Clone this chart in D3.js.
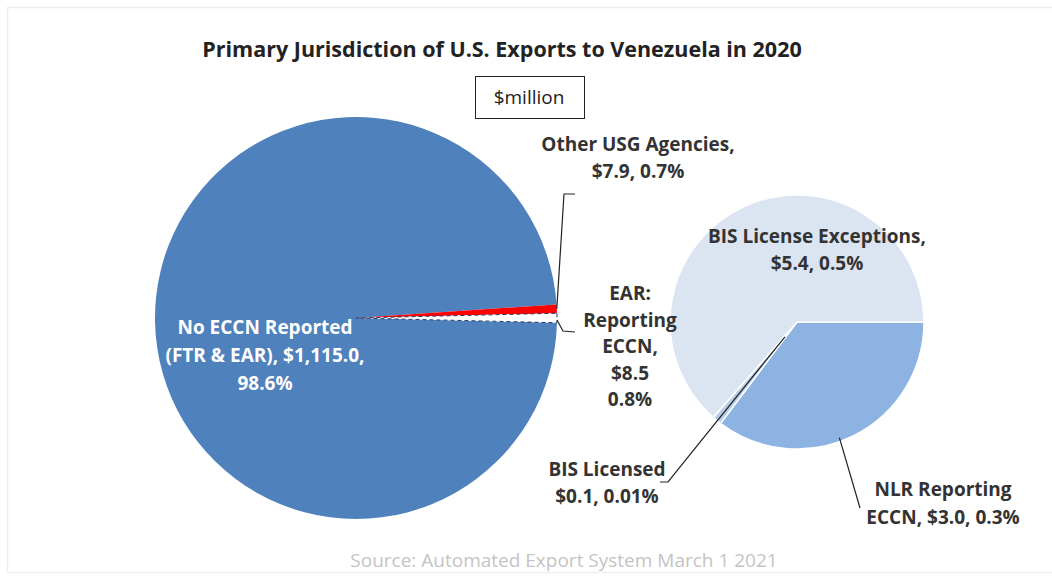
<!DOCTYPE html>
<html>
<head>
<meta charset="utf-8">
<script src="https://cdn.jsdelivr.net/npm/d3@7/dist/d3.min.js"></script>
<style>
  html, body { margin: 0; padding: 0; background: #fff; }
  text { font-family: "Open Sans", Lato, sans-serif; }
</style>
</head>
<body>
<svg id="chart" width="1052" height="577"></svg>
<script>
// ---- Data ----
const mainCategories = ["No ECCN Reported (FTR & EAR)", "Other USG Agencies", "EAR: Reporting ECCN"];
const mainValues = [1115.0, 7.9, 8.5];
const mainPercents = ["98.6%", "0.7%", "0.8%"];

const subCategories = ["NLR Reporting ECCN", "BIS Licensed", "BIS License Exceptions"];
const subValues = [3.0, 0.1, 5.4];
const subPercents = ["0.3%", "0.01%", "0.5%"];

const titleText = "Primary Jurisdiction  of U.S. Exports to Venezuela in 2020";
const unitText = "$million";
const sourceText = "Source: Automated Export System March 1 2021";

// ---- Layout ----
const svg = d3.select("#chart");
const W = 1052, H = 577;
const textColor = "#333333";

// faint outer border
svg.append("rect").attr("x", 7.5).attr("y", 7.5).attr("width", W - 4).attr("height", 565)
  .attr("fill", "none").attr("stroke", "#eeeeee").attr("stroke-width", 1.5);

// title
svg.append("text").attr("x", 502).attr("y", 57).attr("text-anchor", "middle")
  .attr("font-size", 21.5).attr("font-weight", 700).attr("fill", "#222").text(titleText);

// unit box
svg.append("rect").attr("x", 475.5).attr("y", 76.5).attr("width", 109).attr("height", 42)
  .attr("fill", "#fff").attr("stroke", "#222").attr("stroke-width", 1);
svg.append("text").attr("x", 529).attr("y", 104).attr("text-anchor", "middle")
  .attr("font-size", 19).attr("fill", "#222").text(unitText);

// ---- Main pie ----
const mainC = { x: 356, y: 318 }, mainR = 201;
const total = d3.sum(mainValues);
const breakAngle = mainValues[2] / total * 2 * Math.PI;
const mainPie = d3.pie().sort(null)
  .startAngle(Math.PI / 2 + breakAngle / 2 - 2 * Math.PI)
  .endAngle(Math.PI / 2 + breakAngle / 2);
const mainArcs = mainPie(mainValues);
const mainArc = d3.arc().innerRadius(0).outerRadius(mainR);
const mainColors = ["#4f81bd", "#ff0000", "#ffffff"];

const gMain = svg.append("g").attr("transform", `translate(${mainC.x},${mainC.y})`);
gMain.selectAll("path").data(mainArcs).join("path")
  .attr("d", mainArc)
  .attr("fill", (d, i) => mainColors[i])
  .attr("stroke", (d, i) => i === 2 ? "#1f3a66" : "none")
  .attr("stroke-width", (d, i) => i === 2 ? 1 : 0)
  .attr("stroke-dasharray", (d, i) => i === 2 ? "4,3" : null);

// ---- Secondary pie ----
const subC = { x: 797, y: 322 }, subR = 127;
const subPie = d3.pie().sort(null).startAngle(Math.PI / 2).endAngle(Math.PI / 2 + 2 * Math.PI);
const subArcs = subPie(subValues);
const subArc = d3.arc().innerRadius(0).outerRadius(subR);
const subColors = ["#8db3e2", "#b9cde8", "#dbe5f1"];
const gSub = svg.append("g").attr("transform", `translate(${subC.x},${subC.y})`);
gSub.selectAll("path").data(subArcs).join("path")
  .attr("d", subArc)
  .attr("fill", (d, i) => subColors[i])
  .attr("stroke", "#ffffff").attr("stroke-width", 1.5);

// helper: point on circle for angle a (d3 convention)
function pt(c, r, a) { return [c.x + Math.sin(a) * r, c.y - Math.cos(a) * r]; }

// ---- Labels ----
function multiline(x, y, lines, opts) {
  const t = svg.append("text").attr("x", x).attr("y", y).attr("text-anchor", "middle")
    .attr("font-size", opts.size || 19).attr("font-weight", 700)
    .attr("fill", opts.color || textColor);
  lines.forEach((l, i) => t.append("tspan").attr("x", x).attr("dy", i === 0 ? 0 : (opts.lh || 27.5)).text(l));
  return t;
}
const fmt = v => "$" + d3.format(",.1f")(v);

// No ECCN
multiline(265, 334, ["No ECCN Reported", "(FTR & EAR), " + fmt(mainValues[0]) + ",", mainPercents[0]], { color: "#ffffff", lh: 28 });
// Other USG
multiline(638, 151, ["Other USG Agencies,", fmt(mainValues[1]) + ", " + mainPercents[1]], { lh: 27 });
// EAR
multiline(630, 300, ["EAR:", "Reporting", "ECCN,", fmt(mainValues[2]), mainPercents[2]], { lh: 26.5 });
// BIS License Exceptions
multiline(817, 243, ["BIS License Exceptions,", fmt(subValues[2]) + ", " + subPercents[2]], { lh: 27 });
// BIS Licensed
multiline(607, 476, ["BIS Licensed", fmt(subValues[1]) + ", " + subPercents[1]], { lh: 27 });
// NLR
multiline(943, 496, ["NLR Reporting", "ECCN, " + fmt(subValues[0]) + ", " + subPercents[0]], { lh: 28 });

// ---- Leader lines ----
const leader = svg.append("g").attr("fill", "none").attr("stroke", "#222").attr("stroke-width", 1.2);
// Other USG: from red slice edge up to label
const redMid = (mainArcs[1].startAngle + mainArcs[1].endAngle) / 2;
const pRed = pt(mainC, mainR, redMid);
leader.append("path").attr("d", `M${pRed[0]},${pRed[1]} L564,194 L575,194`);
// EAR: from white slice edge to label
const earMid = (mainArcs[2].startAngle + mainArcs[2].endAngle) / 2 + 0.01;
const pEar = pt(mainC, mainR, earMid);
leader.append("path").attr("d", `M${pEar[0]},${pEar[1]} L563,331 L575,332`);
// BIS Licensed
const licMid = (subArcs[1].startAngle + subArcs[1].endAngle) / 2;
const pLic = pt(subC, subR * 0.15, licMid);
leader.append("path").attr("d", `M${pLic[0]},${pLic[1]} L668,482 L660,482`);
// NLR
const nlrA = subArcs[0].startAngle + (subArcs[0].endAngle - subArcs[0].startAngle) * 0.55;
const pNlr = pt(subC, subR * 0.97, nlrA);
leader.append("path").attr("d", `M${pNlr[0]},${pNlr[1]} L860,508`);

// source
svg.append("text").attr("x", 564).attr("y", 567).attr("text-anchor", "middle")
  .attr("font-size", 19).attr("fill", "#c4c4c4").text(sourceText);
</script>
</body>
</html>
